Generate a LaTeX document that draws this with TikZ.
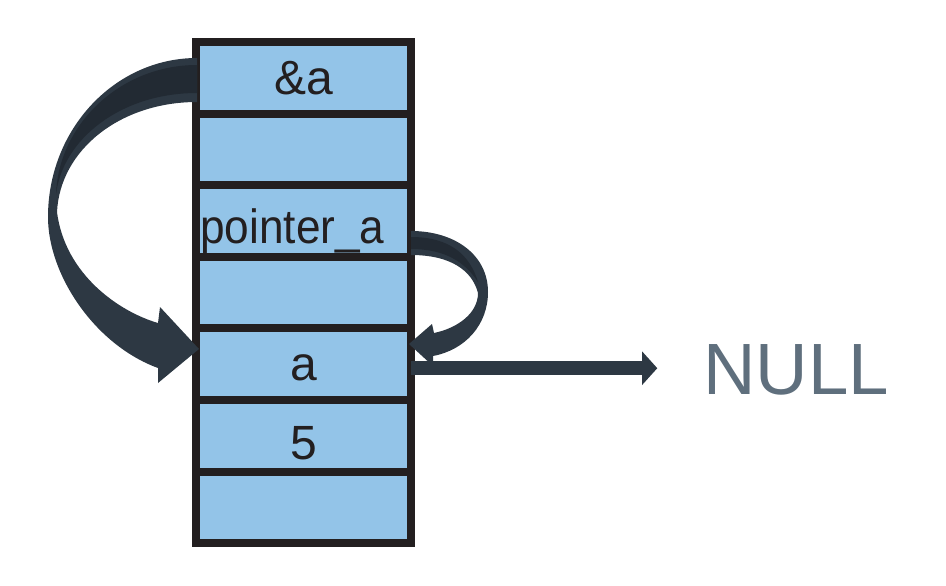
\documentclass[tikz,border=0pt]{standalone}
\usepackage{fontspec}
\setmainfont{Liberation Sans}
\usetikzlibrary{positioning,arrows.meta}
\definecolor{cellfill}{HTML}{93C4E8}
\definecolor{cellline}{HTML}{231F20}
\definecolor{arrowink}{HTML}{2D3843}
\definecolor{arrowback}{HTML}{222A33}
\definecolor{nullink}{HTML}{5F6F7D}
\tikzset{
  cell/.style={draw=cellline,fill=cellfill,line width=6.8pt,minimum width=6.45cm,minimum height=2.148cm,
    outer sep=0pt,inner sep=0pt,text height=28pt,text depth=0pt,font=\fontsize{41}{48}\selectfont,text=cellline},
  ribbon/.style={fill=arrowink},
  ribbonback/.style={fill=arrowback},
  nullarrow/.style={draw=arrowink,line width=11.5pt,-{Triangle[length=13pt,width=28pt]},shorten >=39pt}
}

\begin{document}
\begin{tikzpicture}[x=0.03cm,y=-0.03cm]
  \useasboundingbox (0,0) rectangle (946,586);
  % memory cells
  \node[cell] (c1) at (303.5,77.8) {\&a};
  \node[cell,below=0pt of c1] (c2) {};
  \node[cell,below=0pt of c2] (c3) {};
  \node[cell,below=0pt of c3] (c4) {};
  \node[cell,below=0pt of c4] (c5) {a};
  \node[cell,below=0pt of c5,text height=40pt] (c6) {5};
  \node[cell,below=0pt of c6] (c7) {};
  \node[font=\fontsize{41}{48}\selectfont,text=cellline,inner sep=0pt,anchor=base west] (pa) at (200,243) {\scalebox{0.92}[1]{pointer\_a}};
  \node[font=\fontsize{62}{72}\selectfont,text=nullink,inner sep=0pt,anchor=base west] (null) at (703,394) {NULL};
  % &a -> a
  \fill[ribbon] (197,58) .. controls (115,58) and (48,129) .. (48,217)
    .. controls (48,275) and (95,345) .. (158,368)
    -- (158,383) -- (199,349) -- (160,307) -- (158,323)
    .. controls (120,312) and (65,275) .. (57,212)
    .. controls (60,150) and (120,102) .. (197,102) -- cycle;
  \fill[ribbonback] (197,65) .. controls (120,65) and (58,125) .. (56,195)
    .. controls (62,140) and (120,93) .. (197,93) -- cycle;
  % pointer_a -> a
  \fill[ribbon] (411,231) .. controls (455,231) and (488,255) .. (488,292)
    .. controls (488,325) and (465,350) .. (433,356)
    -- (433,366) -- (409,344) -- (432,324) -- (434,333)
    .. controls (458,328) and (478,313) .. (478,293)
    .. controls (472,270) and (450,255) .. (411,255) -- cycle;
  \fill[ribbonback] (411,237) .. controls (450,237) and (470,255) .. (478,282)
    .. controls (465,262) and (445,249) .. (411,249) -- cycle;
  % a -> NULL
  \draw[nullarrow] ([yshift=-3.4pt]c5.east) -- ([yshift=-3.4pt]c5.east -| null.west);
\end{tikzpicture}
\end{document}
